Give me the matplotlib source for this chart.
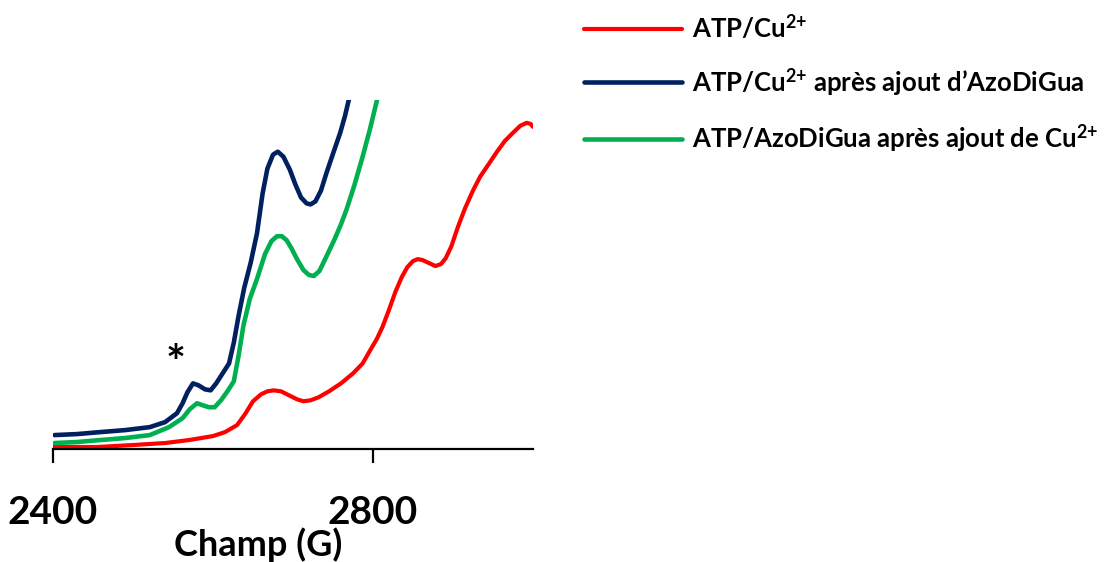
import matplotlib
matplotlib.use("Agg")
import matplotlib.pyplot as plt

plt.rcParams['font.family'] = ['Lato', 'DejaVu Sans']
plt.rcParams['mathtext.fontset'] = 'custom'
plt.rcParams['mathtext.rm'] = 'Lato'
plt.rcParams['mathtext.bf'] = 'Lato:bold'
plt.rcParams['mathtext.it'] = 'Lato:italic'

# Field (G) and intensity (arbitrary units)
field_cu = [2400, 2455, 2500, 2540, 2570, 2600, 2615, 2630, 2640, 2650, 2660, 2668,
            2676, 2685, 2695, 2705, 2713, 2722, 2732, 2745, 2760, 2775, 2787, 2797,
            2805, 2812, 2820, 2828, 2836, 2843, 2850, 2856, 2862, 2870, 2878, 2885,
            2891, 2898, 2906, 2915, 2925, 2934, 2945, 2955, 2965, 2975, 2984, 2992,
            2997, 3000]
int_cu = [0, 0, 2, 4, 7, 11, 15, 22, 33, 46, 53, 56,
          57, 56, 52, 48, 46, 47, 50, 56, 64, 74, 84, 98,
          109, 121, 138, 156, 171, 181, 187, 189, 188, 185, 182, 184,
          190, 202, 221, 240, 258, 272, 285, 297, 308, 316, 323, 326,
          325, 322]

field_cu_azo = [2402, 2430, 2459, 2490, 2521, 2540, 2555, 2562, 2568, 2575, 2582, 2590,
                2597, 2604, 2612, 2620, 2626, 2632, 2639, 2647, 2655, 2662, 2668, 2675,
                2681, 2688, 2696, 2703, 2710, 2717, 2722, 2728, 2735, 2742, 2750, 2759,
                2765, 2770, 2777]
int_cu_azo = [12, 13, 15, 17, 20, 25, 34, 44, 55, 64, 62, 58,
              57, 64, 74, 84, 105, 132, 160, 185, 215, 255, 280, 294,
              297, 292, 279, 264, 251, 245, 244, 247, 258, 276, 295, 316,
              333, 350, 379]

field_azo_cu = [2402, 2430, 2459, 2490, 2521, 2545, 2562, 2571, 2580, 2587, 2595, 2602,
                2610, 2618, 2626, 2632, 2638, 2646, 2655, 2665, 2673, 2680, 2686, 2692,
                2698, 2705, 2713, 2720, 2726, 2733, 2742, 2752, 2760, 2767, 2777, 2787,
                2796, 2805, 2812]
int_azo_cu = [4, 5, 7, 9, 12, 20, 29, 38, 44, 42, 40, 40,
              47, 56, 66, 92, 122, 149, 169, 194, 207, 212, 212, 208,
              200, 189, 178, 173, 172, 177, 192, 209, 224, 239, 264, 292,
              319, 349, 374]

labels = [r'ATP/Cu$^{\mathbf{2{+}}}$',
          r'ATP/Cu$^{\mathbf{2{+}}}$ après ajout d’AzoDiGua',
          r'ATP/AzoDiGua après ajout de Cu$^{\mathbf{2{+}}}$']
colors = ['#FF0000', '#002060', '#00B050']
xticks = [2400, 2800]

fig = plt.figure(figsize=(11.10, 5.62), dpi=100)
ax = fig.add_axes([53/1110, 1 - 449/562, 480/1110, 349/562])

kw = dict(solid_joinstyle='round', solid_capstyle='round')
l1, = ax.plot(field_cu, int_cu, color=colors[0], lw=3.0, label=labels[0], zorder=2, **kw)
l2, = ax.plot(field_cu_azo, int_cu_azo, color=colors[1], lw=3.3, label=labels[1], zorder=3, **kw)
l3, = ax.plot(field_azo_cu, int_azo_cu, color=colors[2], lw=3.3, label=labels[2], zorder=4, **kw)

ax.set_xlim(2400, 3000)
ax.set_ylim(-2, 349)
for s in ['left', 'right', 'top']:
    ax.spines[s].set_visible(False)
ax.spines['bottom'].set_linewidth(1.6)
ax.set_yticks([])
ax.set_xticks(xticks)
ax.set_xticklabels([str(t) for t in xticks], fontsize=28, fontweight='bold')
ax.tick_params(axis='x', direction='out', length=10, width=1.6, pad=23)

fig.text(258/1110, 1 - 545/562, 'Champ (G)', fontsize=26, fontweight='bold',
         ha='center', va='center')

ax.text(2553, 82, '*', fontsize=34, fontweight='bold', ha='center', va='center')

leg = fig.legend(handles=[l1, l2, l3], loc='upper left',
                 bbox_to_anchor=(584/1110, 1 - 13/562), frameon=False,
                 prop={'weight': 'bold', 'size': 18.5},
                 handlelength=3.8, handletextpad=0.4, labelspacing=0.95,
                 borderpad=0, borderaxespad=0)

fig.savefig('out.png', dpi=100)
